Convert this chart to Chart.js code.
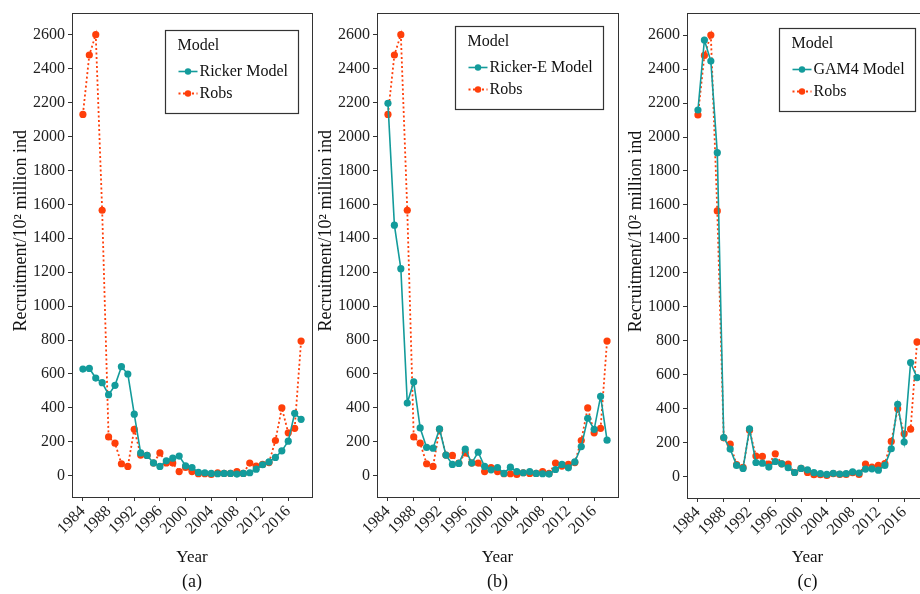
<!DOCTYPE html>
<html>
<head>
<meta charset="utf-8">
<script src="https://cdn.jsdelivr.net/npm/chart.js@4/dist/chart.umd.min.js"></script>
<style>
html,body{margin:0;padding:0;width:920px;height:594px;overflow:hidden;background:#fff;}
canvas{position:absolute;top:0;}
</style>
</head>
<body>
<canvas id="ca" width="320" height="594" style="left:0px"></canvas>
<canvas id="cb" width="320" height="594" style="left:305px"></canvas>
<canvas id="cc" width="320" height="594" style="left:615px"></canvas>
<script>
const years = [1984,1985,1986,1987,1988,1989,1990,1991,1992,1993,1994,1995,1996,1997,1998,1999,2000,2001,2002,2003,2004,2005,2006,2007,2008,2009,2010,2011,2012,2013,2014,2015,2016,2017,2018];
const xTickLabels = ['1984','1988','1992','1996','2000','2004','2008','2012','2016'];
const yTickLabels = ['0','200','400','600','800','1000','1200','1400','1600','1800','2000','2200','2400','2600'];
const yTitle = 'Recruitment/10² million ind';
const xTitle = 'Year';
const legendTitle = 'Model';

const robs = [2130,2480,2600,1565,229,192,71,55,274,122,120,75,135,76,75,25,49,25,12,12,8,18,14,14,24,14,75,57,67,78,208,400,253,280,794];
const ricker = [629,633,576,549,478,533,643,600,363,135,120,76,55,88,104,116,59,49,20,18,14,12,14,14,10,14,18,39,65,82,108,147,204,368,333];
const rickerE = [2195,1477,1221,429,553,282,167,163,276,122,67,73,157,75,139,55,35,49,14,51,24,18,25,14,12,10,37,67,47,82,172,339,274,468,210];
const gam4 = [2159,2571,2447,1908,231,163,67,49,282,84,80,57,90,76,53,25,49,41,24,18,14,20,16,18,29,22,45,47,39,67,165,427,204,672,584];

const TEAL = '#139b9b';
const RED = '#ff3f0a';
const FONT = "'Liberation Serif','Times New Roman',serif";

function pts(vals){ return years.map((y,i)=>({x:y,y:vals[i]})); }

const boxPlugin = {
  id:'boxAndLegend',
  afterDraw(chart, args, opts){
    const ctx = chart.ctx, a = chart.chartArea;
    ctx.save();
    ctx.strokeStyle = '#333';
    ctx.lineWidth = 1;
    ctx.strokeRect(Math.round(a.left)+0.5, Math.round(a.top)+0.5, Math.round(a.right-a.left), Math.round(a.bottom-a.top));
    // y axis title
    ctx.save();
    ctx.translate(a.left - 51, (a.top + a.bottom)/2 - 24);
    ctx.rotate(-Math.PI/2);
    ctx.font = '18px ' + FONT;
    ctx.fillStyle = '#111';
    ctx.textAlign = 'center';
    ctx.textBaseline = 'middle';
    ctx.fillText(yTitle, 0, 0);
    ctx.restore();
    // legend
    const ds = chart.data.datasets;
    ctx.font = '16px ' + FONT;
    let maxW = ctx.measureText(legendTitle).width;
    ds.forEach(d=>{ maxW = Math.max(maxW, 22 + ctx.measureText(d.label).width); });
    const w = Math.round(12 + maxW + 11);
    const h = 83;
    const bx = Math.round(a.right - opts.right - w) + 0.5;
    const by = Math.round(a.top + opts.top) + 0.5;
    ctx.fillStyle = '#fff';
    ctx.fillRect(bx, by, w, h);
    ctx.strokeStyle = '#333';
    ctx.lineWidth = 1.2;
    ctx.strokeRect(bx, by, w, h);
    ctx.fillStyle = '#111';
    ctx.textBaseline = 'middle';
    ctx.textAlign = 'left';
    ctx.fillText(legendTitle, bx + 12, by + 15);
    ds.forEach((d,i)=>{
      const cy = by + 41 + i*22;
      const x0 = bx + 13, x1 = bx + 32;
      ctx.strokeStyle = d.borderColor;
      ctx.lineWidth = d.borderWidth;
      ctx.setLineDash(d.borderDash || []);
      ctx.beginPath(); ctx.moveTo(x0, cy); ctx.lineTo(x1, cy); ctx.stroke();
      ctx.setLineDash([]);
      ctx.fillStyle = d.borderColor;
      ctx.beginPath(); ctx.arc((x0+x1)/2, cy, 3.2, 0, Math.PI*2); ctx.fill();
      ctx.fillStyle = '#111';
      ctx.fillText(d.label, bx + 34, cy);
    });
    ctx.restore();
  }
};

function makeChart(id, modelLabel, modelVals, panel, pad, legendPos){
  const ctx = document.getElementById(id);
  return new Chart(ctx, {
    type:'line',
    data:{
      datasets:[
        {label:modelLabel, data:pts(modelVals), borderColor:TEAL, backgroundColor:TEAL,
         borderWidth:1.6, pointRadius:3.6, pointBackgroundColor:TEAL, pointBorderWidth:0, order:0, tension:0},
        {label:'Robs', data:pts(robs), borderColor:RED, backgroundColor:RED,
         borderWidth:1.8, borderDash:[2,2.5], pointRadius:3.6, pointBackgroundColor:RED, pointBorderWidth:0, order:1, tension:0}
      ]
    },
    options:{
      responsive:false,
      animation:false,
      devicePixelRatio:1,
      layout:{padding:{left:0, top:pad.top, right:pad.right, bottom:0}},
      plugins:{
        legend:{display:false},
        tooltip:{enabled:false},
        title:{display:true, text:panel, position:'bottom', fullSize:false,
               font:{family:FONT, size:18, weight:'normal'}, color:'#111',
               padding:{top:4, bottom:1.2}},
        boxAndLegend: legendPos
      },
      scales:{
        x:{
          type:'linear', min:1982.3, max:2019.7,
          afterBuildTicks:(s)=>{ s.ticks = xTickLabels.map(v=>({value:Number(v)})); },
          afterFit:(s)=>{ s.height = pad.xh; },
          ticks:{autoSkip:false, minRotation:45, maxRotation:45, padding:1, color:'#222',
                 font:{family:FONT, size:16}, callback:(v)=>String(v)},
          grid:{drawOnChartArea:false, drawTicks:true, tickLength:4, color:'#333'},
          border:{display:false},
          title:{display:true, text:xTitle, color:'#111', font:{family:FONT, size:17}, padding:{top:0,bottom:-1}}
        },
        y:{
          type:'linear', min:-125, max:2730,
          afterBuildTicks:(s)=>{ s.ticks = yTickLabels.map(v=>({value:Number(v)})); },
          afterFit:(s)=>{ s.width = 72; },
          ticks:{padding:3, color:'#222', font:{family:FONT, size:16}, callback:(v)=>String(v)},
          grid:{drawOnChartArea:false, drawTicks:true, tickLength:4, color:'#333'},
          border:{display:false},
          title:{display:false}
        }
      }
    },
    plugins:[boxPlugin]
  });
}

makeChart('ca','Ricker Model', ricker, '(a)', {top:10, right:8, xh:70.2}, {top:17, right:14});
makeChart('cb','Ricker-E Model', rickerE, '(b)', {top:11, right:7, xh:70.2}, {top:13, right:15});
makeChart('cc','GAM4 Model', gam4, '(c)', {top:13, right:7, xh:69.2}, {top:15, right:13});
</script>
</body>
</html>
